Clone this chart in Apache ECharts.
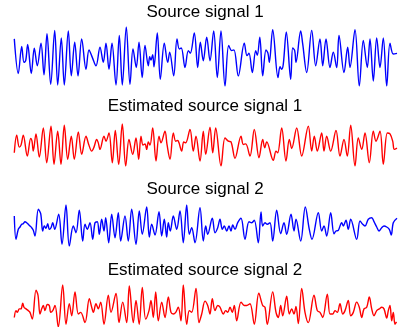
<!DOCTYPE html>
<html>
<head>
<meta charset="utf-8">
<script src="https://cdn.jsdelivr.net/npm/echarts@6/dist/echarts.min.js"></script>
<style>
  html, body { margin: 0; padding: 0; background: #fff; }
  #chart { width: 398px; height: 327px; }
</style>
</head>
<body>
<div id="chart"></div>
<script>
// signal values: [time sample, amplitude]
const titles = ['Source signal 1', 'Estimated source signal 1', 'Source signal 2', 'Estimated source signal 2'];

const source1 = [[0.3,1.73],[4.3,-1.7],[7.7,0.97],[10,-0.6],[11.7,-0.43],[13.7,1.17],[17.3,-1.7],[20.3,0.8],[23.3,-0.93],[27,1.3],[30,-1.83],[33,2.23],[36.7,-2.77],[40.7,2.57],[43.7,-2.83],[47.3,1.83],[50.3,-2.83],[54.3,2.5],[57.3,-1.93],[60.7,1.4],[64,-1.93],[67.7,1.73],[72,-1.27],[75,0.63],[78.3,-0.1],[82,-0.93],[86,0.9],[89.3,-0.6],[92,1.3],[95,-1.27],[98,1.3],[102,-2.83],[105.3,2.07],[108.3,-2.83],[112.3,2.9],[116,-2.77],[119,0.73],[122.3,-1.1],[125,1.4],[128.2,-2.1],[131,1.07],[134.3,-0.93],[135.7,-0.03],[137,-0.37],[138.7,0.17],[140,-1.03],[143.3,2.3],[146.3,-2.27],[150.3,1.3],[153.7,-0.6],[155.7,0.4],[159.7,-1.93],[163,1.73],[165.3,0.73],[167.3,0.83],[171,-1.1],[174.3,0.57],[176.3,0.3],[180.3,2.3],[183.7,-1.1],[186.3,1.4],[189.3,-0.43],[192.7,1.9],[196,-0.43],[199.7,2.5],[203.3,-2.1],[207,2.5],[211,-2.93],[214.7,1.07],[217.7,0.57],[220,0.63],[224.3,-1.93],[230.3,1.3],[233,0.07],[235,0.3],[238.3,-1.6],[241.7,0.57],[243.3,0.1],[245.8,1.9],[248.7,-1.93],[252,0.63],[254,0.3],[255.3,-0.6],[258.7,2.63],[264,-2.1],[266,-1.03],[267.7,-1.27],[269.3,-0.77],[272.3,2.4],[276.7,-2.27],[278.7,0.83],[280.7,0.57],[282,-0.6],[286.7,2.5],[288.7,1.23],[292.7,-1.6],[297.7,2.57],[301.7,-0.93],[306,1.73],[308.7,-0.93],[312,1.73],[316,-1.1],[319.3,0.4],[322.7,-1.1],[325,2.07],[330,-1.6],[333.7,0.9],[336,-1.1],[341,2.63],[345.3,-2.93],[349.3,1.57],[353.3,-1.1],[356,1.73],[359.3,-2.43],[362.7,1.83],[366,-1.1],[369.3,1.83],[372.7,-2.93],[376,1.3],[379.3,0.23],[383,0.3]];

const estimate1 = [[0.3,-0.77],[2.7,1.0],[5.3,-0.2],[7,0],[9.3,1.0],[13.3,-1.1],[16.7,0.67],[18,0.4],[19.3,-0.6],[22,1.13],[25.3,-1.2],[29.3,1.73],[32.7,-1.77],[37,1.9],[40,-1.93],[43.7,1.4],[47,-1.93],[50.3,2.0],[53.7,-1.43],[57.3,0.9],[60.3,-1.43],[64.3,1.33],[67.7,-0.93],[72,0.9],[74.7,0.07],[77.7,-0.6],[80,-0.2],[82.7,0.57],[84.3,0.23],[86,-0.43],[90,0.9],[92,0.4],[95,1.23],[98.3,-1.77],[101.3,1.47],[104.7,-1.93],[108.3,2.13],[111.7,-2.1],[115,0.57],[118.7,-0.93],[122,0.73],[124.7,-1.43],[127,0.9],[129,0],[131,0.13],[132.7,-0.43],[134.3,0.33],[136,0],[138.7,1.73],[142,-1.6],[145,0.9],[147,0.23],[151,1.4],[153,0.07],[156,-1.43],[159.3,1.23],[161.7,0.4],[163.7,0.47],[165,0.23],[167.7,-0.6],[169.7,0.33],[171.7,0.23],[176,1.57],[179.3,-0.6],[182,0.9],[186,-1.6],[189.3,1.4],[191.7,-0.93],[196,1.8],[198.7,-0.77],[201.7,1.73],[207,-2.1],[211,0.73],[214.3,0.4],[217,0.33],[221,-1.33],[227,0.9],[229.3,0.07],[231.7,0.13],[236,-1.1],[240.3,1.57],[245,-1.27],[248.7,0.57],[250.7,-0.27],[252.7,0.33],[259.3,-1.53],[262,-0.6],[263.7,-0.77],[267.7,1.73],[272,-1.6],[275.3,0.57],[277.7,-0.33],[282.7,1.73],[287.7,-1.1],[294.3,1.9],[297.7,-0.6],[300.3,0.9],[303.3,-0.6],[307.7,1.23],[310,-0.6],[312.7,0.9],[316.7,-0.6],[322,1.47],[326,-1.1],[330,0.57],[333.3,-1.1],[336.7,2.0],[341,-2.1],[344.3,0.73],[347.7,-0.43],[351,1.23],[355.3,-1.77],[359.3,1.4],[362,0.4],[366,1.4],[369.3,-1.93],[373.3,1.23],[376,1.13],[378.7,0.4],[380.3,-0.43],[383,-0.3]];

const source2 = [[0.3,0.9],[2,-1.43],[4.3,-0.43],[6,-0.2],[7.7,0.07],[9.3,0.13],[11,0.33],[12.7,0.23],[14.3,0.07],[16,-0.1],[17.7,-0.27],[19.3,-0.53],[21,-1.1],[24.3,1.57],[26.7,1.13],[28.7,-0.6],[30.3,-0.1],[32,-0.33],[33.7,0.13],[35.3,-0.43],[37,-0.27],[38.7,0.23],[40.7,-0.43],[44.7,1.07],[48,-1.93],[52,2.0],[55.3,-2.1],[59.3,-0.1],[62,-0.77],[65.3,1.47],[68.7,-1.6],[71,0.07],[73.3,-0.43],[76,0.23],[78.7,-1.43],[81,0.23],[83.3,0.33],[85.3,-0.93],[87.7,0.57],[90,-0.6],[91.7,0.73],[94.7,-1.77],[97.7,1.07],[101,-1.27],[104.3,1.23],[106.7,-1.6],[111,0.9],[114.3,-1.6],[117.7,1.57],[122,-1.93],[125.3,1.4],[128.3,-0.93],[132.7,1.8],[135.3,-1.2],[137.7,0.07],[141,-1.0],[145,1.33],[147.7,-1.1],[150.3,0.57],[152.7,-1.2],[154.3,0.23],[156.3,-0.6],[159.3,0.9],[162.7,-0.43],[166,1.4],[169.3,-1.77],[172.7,2.0],[175.3,-0.93],[177.7,-0.27],[181,-1.77],[186,1.73],[189.3,-1.6],[191.7,-0.1],[193.7,-0.93],[198.3,0.67],[201,-0.77],[203.7,-0.27],[206,0.57],[208.3,-0.43],[210.3,-0.1],[212.7,-0.6],[215,-0.1],[217,-0.6],[218.7,0],[221,-0.43],[223.7,0.23],[227,0.67],[231,-1.43],[235,0.33],[237.7,0.23],[240.3,0.47],[244.3,-1.77],[247,1.3],[248.7,-0.1],[251,0.23],[253.3,0.07],[256,0.23],[258.7,-1.6],[262.7,1.47],[266.7,-0.87],[270,0.23],[272.7,-0.93],[277,1.07],[280,-0.6],[282,0.57],[286.7,-1.6],[291.3,1.8],[295.3,-0.43],[298,-1.43],[304.3,1.23],[307.7,-0.6],[310,-0.1],[312.7,-1.1],[316.7,1.23],[320,-0.87],[322,-0.6],[324.3,-0.53],[327.7,0.23],[329.3,-0.1],[332,0.47],[334.3,-0.43],[336.7,0.57],[342.7,-1.43],[346,0.4],[348.7,0.07],[351,-0.1],[354.3,0.57],[357.7,0.73],[360,0.33],[362.7,-0.2],[365,-0.6],[367.7,-0.27],[370,-0.1],[372.7,-0.2],[375.3,-0.43],[377.3,-1.0],[379.3,0.23],[383,0.67]];

const estimate2 = [[0.3,-1.07],[2,-0.4],[3.3,-0.57],[5.3,-0.23],[7,-0.23],[8.7,0.33],[10,-0.07],[12,-0.23],[14.3,-0.4],[16,-0.57],[18.3,-1.23],[22,1.6],[24,1.1],[26,-0.73],[27.7,-0.23],[29.3,0.1],[31,-0.4],[33.3,0.2],[35.3,0.1],[36.7,-0.57],[38.7,-0.4],[41,0.1],[44.3,-2.0],[48.7,2.1],[52,-1.73],[55.3,0.27],[57.7,-0.9],[61,1.43],[64.3,-0.73],[66.7,-0.57],[71,-1.57],[75.3,0.77],[77.7,-0.07],[79.3,-0.57],[82,0.27],[84.3,-0.23],[86.7,0.43],[90,-1.73],[94.3,1.1],[97,-0.57],[102,1.27],[105,-1.57],[108.7,0.43],[112.7,-1.57],[115.3,2.0],[119.3,-1.57],[122,0.6],[125.2,-1.73],[128.3,1.87],[131.7,-1.23],[135,-0.4],[137,0.6],[139.3,-1.07],[141.7,1.43],[144.3,-1.4],[147.7,0.43],[151,-1.07],[154.3,0.93],[157,-0.57],[159.3,-0.73],[161.7,-0.57],[164.3,-0.07],[167,-1.4],[169.3,2.1],[172.7,-1.73],[175.3,-0.4],[177.7,-0.57],[182,1.77],[185,-1.57],[187.7,-0.73],[191,0.53],[193.7,0.1],[196,-0.73],[198.3,0.77],[201,-0.4],[203.7,0.1],[206,-0.07],[209.3,-0.73],[211.7,-0.4],[213.7,-0.57],[216,-0.07],[218.3,-0.57],[220.3,0.1],[222.7,-1.4],[227,0.43],[230.3,0.1],[232.7,0.1],[236,0.27],[240.3,-1.73],[244.8,1.3],[248.7,0.1],[251,-0.07],[253.3,-1.73],[258.7,1.43],[262,-0.57],[264.3,-1.07],[266.7,0.1],[268.7,-0.9],[272.7,1.0],[275.3,-0.73],[277.7,-0.23],[280,-0.73],[282,0],[284.3,-1.67],[287.7,1.77],[291,-0.57],[294.3,-1.57],[300,1.1],[303.3,-0.4],[306,-0.57],[308.7,-1.07],[313.3,1.2],[316,-0.73],[318.7,-0.73],[321,-0.4],[323.3,-0.57],[326,0.27],[328.7,-0.73],[331,-0.4],[334.3,0.6],[336.7,-0.9],[339.3,-0.57],[342.7,0.43],[345.3,-0.07],[347.7,-1.07],[350,-0.23],[352.7,-0.07],[355.3,0.93],[357.7,-0.23],[360,-0.9],[362.7,-0.4],[365.3,-0.23],[367.7,-0.07],[370,-0.23],[372.7,-1.13],[374.3,-0.4],[376,0.1],[377.7,-1.4],[379.3,-0.57],[381,-1.73],[382.5,-1.5]];

const signals = [source1, estimate1, source2, estimate2];
const colors = ['#0000ff', '#ff0000', '#0000ff', '#ff0000'];

// panel layout
const gridTops = [27, 124, 205, 285];
const gridHeights = [59, 42, 41, 42];
const titleTops = [4, 98, 181, 262];

const chart = echarts.init(document.getElementById('chart'));

const option = {
  animation: false,
  backgroundColor: '#ffffff',
  title: titles.map((t, i) => ({
    text: t,
    left: 205,
    textAlign: 'center',
    top: titleTops[i],
    padding: 0,
    textStyle: {
      fontFamily: 'Liberation Sans, Arial, sans-serif',
      fontSize: 17,
      fontWeight: 'normal',
      color: '#000'
    }
  })),
  grid: gridTops.map((top, i) => ({
    left: 14,
    right: 1,
    top: top,
    height: gridHeights[i]
  })),
  xAxis: signals.map((s, i) => ({
    type: 'value',
    gridIndex: i,
    min: 0,
    max: 383,
    show: false
  })),
  yAxis: signals.map((s, i) => ({
    type: 'value',
    gridIndex: i,
    min: 'dataMin',
    max: 'dataMax',
    show: false
  })),
  series: signals.map((s, i) => ({
    type: 'line',
    xAxisIndex: i,
    yAxisIndex: i,
    data: s,
    smooth: 0.35,
    showSymbol: false,
    lineStyle: { color: colors[i], width: 1.4 }
  }))
};

chart.setOption(option);
</script>
</body>
</html>
